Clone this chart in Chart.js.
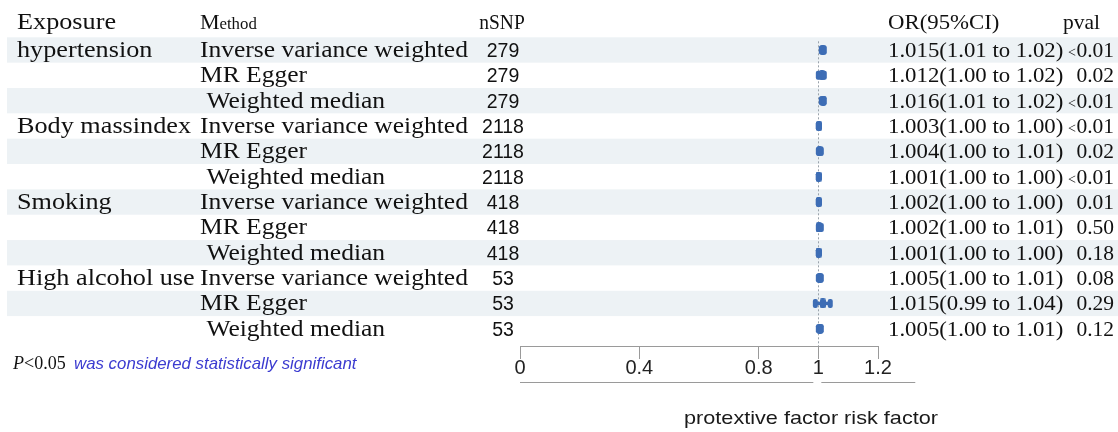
<!DOCTYPE html>
<html>
<head>
<meta charset="utf-8">
<script src="https://cdn.jsdelivr.net/npm/chart.js@4.4.1/dist/chart.umd.min.js"></script>
<style>
  html, body { margin: 0; padding: 0; background: #ffffff; }
  #wrap { position: relative; width: 1118px; height: 432px; }
</style>
</head>
<body>
<div id="wrap"><canvas id="forest" width="1118" height="432"></canvas></div>
<script>
// ---- data ----
const exposures = ['hypertension', '', '', 'Body massindex', '', '', 'Smoking', '', '', 'High alcohol use', '', ''];
const methods = ['Inverse variance weighted', 'MR Egger', ' Weighted median',
                 'Inverse variance weighted', 'MR Egger', ' Weighted median',
                 'Inverse variance weighted', 'MR Egger', ' Weighted median',
                 'Inverse variance weighted', 'MR Egger', ' Weighted median'];
const nSNP = ['279', '279', '279', '2118', '2118', '2118', '418', '418', '418', '53', '53', '53'];
const oddsRatio = [1.015, 1.012, 1.016, 1.003, 1.004, 1.001, 1.002, 1.002, 1.001, 1.005, 1.015, 1.005];
const ciLower = [1.01, 1.00, 1.01, 1.00, 1.00, 1.00, 1.00, 1.00, 1.00, 1.00, 0.99, 1.00];
const ciUpper = [1.02, 1.02, 1.02, 1.00, 1.01, 1.00, 1.00, 1.01, 1.00, 1.01, 1.04, 1.01];
const pValues = ['<0.01', '0.02', '<0.01', '<0.01', '0.02', '<0.01', '0.01', '0.50', '0.18', '0.08', '0.29', '0.12'];
const xTicks = [0, 0.4, 0.8, 1, 1.2];

const rows = oddsRatio.map((v, i) => ({ x: v, y: i }));

// ---- styling ----
const BLUE = '#3d6db5';
const BAND = '#edf2f5';
const INK = '#111111';
const SERIF = '"Liberation Serif", "Times New Roman", serif';
const SANS = '"Liberation Sans", Arial, sans-serif';

function drawText(ctx, s, x, y, font, align, sx, color) {
  ctx.save();
  ctx.font = font;
  ctx.textAlign = align || 'left';
  ctx.textBaseline = 'alphabetic';
  ctx.fillStyle = color || INK;
  ctx.translate(x, y);
  ctx.scale(sx || 1, 1);
  ctx.fillText(s, 0, 0);
  ctx.restore();
}

// point marker: small rounded bar, taller than wide
function roundedMarker(w, h, r) {
  const c = document.createElement('canvas');
  c.width = w; c.height = h;
  const g = c.getContext('2d');
  g.fillStyle = BLUE;
  g.beginPath();
  g.roundRect(0, 0, w, h, r);
  g.fill();
  return c;
}
const marker = roundedMarker(6, 10, 2);

// shaded row bands + dotted reference line at OR = 1
const backdrop = {
  id: 'backdrop',
  beforeDatasetsDraw(chart) {
    const { ctx, scales: { x, y }, chartArea } = chart;
    const half = Math.abs(y.getPixelForValue(0.5) - y.getPixelForValue(0));
    ctx.save();
    ctx.fillStyle = BAND;
    rows.forEach((r, i) => {
      if (i % 2 === 0) {
        const yc = y.getPixelForValue(i);
        ctx.fillRect(7, yc - half, chart.width - 7, half * 2);
      }
    });
    const x1 = Math.round(x.getPixelForValue(1)) + 0.5;
    ctx.strokeStyle = '#9aa3ab';
    ctx.lineWidth = 1;
    ctx.setLineDash([2, 2]);
    ctx.beginPath();
    ctx.moveTo(x1, chartArea.top + 4);
    ctx.lineTo(x1, chartArea.bottom);
    ctx.stroke();
    ctx.restore();
  }
};

// confidence intervals with capped ends
const intervals = {
  id: 'intervals',
  afterDatasetsDraw(chart) {
    const { ctx, scales: { x, y } } = chart;
    ctx.save();
    ctx.fillStyle = BLUE;
    ctx.strokeStyle = BLUE;
    rows.forEach((r, i) => {
      const yc = y.getPixelForValue(i);
      const lo = x.getPixelForValue(ciLower[i]);
      const hi = x.getPixelForValue(ciUpper[i]);
      ctx.lineWidth = 3.5;
      ctx.beginPath();
      ctx.moveTo(lo, yc);
      ctx.lineTo(hi, yc);
      ctx.stroke();
      [lo, hi].forEach(px => {
        ctx.beginPath();
        ctx.roundRect(px - 2.5, yc - 4.5, 5, 9, 2);
        ctx.fill();
      });
    });
    ctx.restore();
  }
};

// table columns, headers, footnote and axis caption
const table = {
  id: 'table',
  afterDraw(chart) {
    const { ctx, scales: { x, y } } = chart;
    const fLeft = '23px ' + SERIF;
    const fOR = '21.5px ' + SERIF;
    const fNum = '19.5px ' + SANS;

    // headers
    const hy = 29;
    drawText(ctx, 'Exposure', 17, hy, fLeft, 'left', 1.14);
    drawText(ctx, 'M', 200, hy, '21px ' + SERIF, 'left', 1.05);
    drawText(ctx, 'ethod', 219.5, hy, '16px ' + SERIF, 'left', 1.05);
    drawText(ctx, 'nSNP', 502, hy, '20.5px ' + SERIF, 'center', 0.95);
    drawText(ctx, 'OR(95%CI)', 888, hy, fOR, 'left', 1.06);
    drawText(ctx, 'pval', 1100, hy, fOR, 'right', 1.0);

    rows.forEach((r, i) => {
      const base = y.getPixelForValue(i) + 7;
      if (exposures[i]) drawText(ctx, exposures[i], 17, base, fLeft, 'left', 1.14);
      drawText(ctx, methods[i], 200, base, fLeft, 'left', 1.11);
      drawText(ctx, nSNP[i], 503, base, fNum, 'center', 1);
      const orText = oddsRatio[i].toFixed(3) + '(' + ciLower[i].toFixed(2) + ' to ' + ciUpper[i].toFixed(2) + ')';
      drawText(ctx, orText, 888, base, fOR, 'left', 1.06);
      const p = pValues[i];
      if (p.startsWith('<')) {
        drawText(ctx, p.slice(1), 1114, base, fOR, 'right', 1.0);
        ctx.save(); ctx.font = fOR;
        const w = ctx.measureText(p.slice(1)).width;
        ctx.restore();
        drawText(ctx, '<', 1114 - w - 0.5, base, '14px ' + SERIF, 'right', 1);
      } else {
        drawText(ctx, p, 1114, base, fOR, 'right', 1.0);
      }
    });

    // footnote
    const fy = 369;
    drawText(ctx, 'P', 13, fy, 'italic 18px ' + SERIF, 'left', 1.0);
    drawText(ctx, '<0.05', 24, fy, '18px ' + SERIF, 'left', 1.0);
    drawText(ctx, 'was considered statistically significant', 74, fy, 'italic 16.5px ' + SANS, 'left', 1.02, '#3b3bd0');

    // lower rule under the tick labels, broken at OR = 1
    const x0 = x.getPixelForValue(0);
    const x1 = x.getPixelForValue(1);
    const yb = 382.5;
    ctx.save();
    ctx.strokeStyle = '#9a9a9a';
    ctx.lineWidth = 1;
    ctx.beginPath();
    ctx.moveTo(x0, yb); ctx.lineTo(x1 - 5, yb);
    ctx.moveTo(x1 + 3, yb); ctx.lineTo(x.getPixelForValue(1.325), yb);
    ctx.stroke();
    ctx.restore();

    drawText(ctx, 'protextive factor risk factor', 811, 424, '19px ' + SANS, 'center', 1.14, '#1a1a1a');
  }
};

new Chart(document.getElementById('forest'), {
  type: 'scatter',
  data: {
    datasets: [{
      data: rows,
      pointStyle: marker,
      pointRadius: 5,
      pointHoverRadius: 5,
      backgroundColor: BLUE,
      borderColor: BLUE
    }]
  },
  options: {
    responsive: false,
    animation: false,
    events: [],
    layout: { padding: { left: 520, right: 240, top: 37.3, bottom: 0 } },
    plugins: { legend: { display: false }, tooltip: { enabled: false } },
    scales: {
      x: {
        type: 'linear',
        min: 0,
        max: 1.2,
        afterBuildTicks(scale) { scale.ticks = xTicks.map(v => ({ value: v })); },
        afterFit(scale) { scale.height = 86; },
        border: { display: true, color: '#9a9a9a', width: 1 },
        grid: { drawOnChartArea: false, drawTicks: true, tickLength: 13, color: '#9a9a9a' },
        ticks: {
          autoSkip: false,
          maxRotation: 0,
          padding: 0,
          color: '#222222',
          font: { family: SANS, size: 20, lineHeight: 0.9 },
          callback: v => String(v)
        }
      },
      y: {
        type: 'linear',
        reverse: true,
        min: -0.5,
        max: 11.68,
        display: false
      }
    }
  },
  plugins: [backdrop, intervals, table]
});
</script>
</body>
</html>
